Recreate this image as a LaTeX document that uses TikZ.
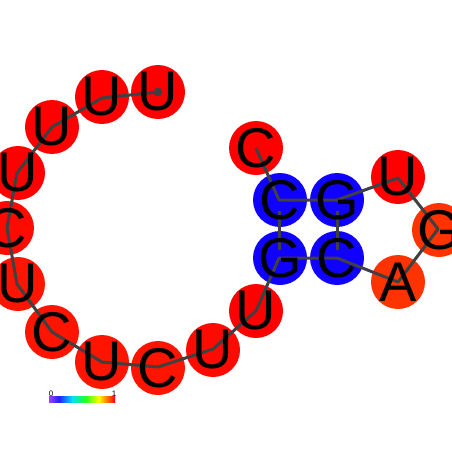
\documentclass[tikz,border=0pt]{standalone}
\usepackage{fontspec}
\setmainfont{Liberation Sans}
\definecolor{bb}{HTML}{404040}
\definecolor{r0}{HTML}{FF0000}
\definecolor{r1}{HTML}{FF0A00}
\definecolor{r2}{HTML}{FF1400}
\definecolor{ro}{HTML}{FF3300}
\definecolor{bl}{HTML}{1000FF}
\definecolor{cbA}{HTML}{A040FF}
\definecolor{cbB}{HTML}{2020FF}
\definecolor{cbC}{HTML}{00E0FF}
\definecolor{cbD}{HTML}{20FF20}
\definecolor{cbE}{HTML}{FFFF00}
\definecolor{cbF}{HTML}{FF8000}
\definecolor{cbG}{HTML}{FF0000}
\pgfdeclarehorizontalshading{rainbowbar}{100bp}{color(0bp)=(cbA); color(25bp)=(cbA); color(32.5bp)=(cbB); color(42.5bp)=(cbC); color(52.5bp)=(cbD); color(62.5bp)=(cbE); color(68.5bp)=(cbF); color(75bp)=(cbG); color(100bp)=(cbG)}
\tikzset{
  ntc/.style={circle, minimum size=54pt, inner sep=0pt, draw=none},
  ntl/.style={inner sep=0pt, font=\fontsize{56}{56}\selectfont, text=black},
  backbone/.style={draw=bb, line width=3pt, line join=round},
  pairline/.style={draw=bb, line width=3pt},
  cblabel/.style={inner sep=0pt, font=\fontsize{8}{8}\selectfont, anchor=base}
}
\begin{document}
\begin{tikzpicture}[x=1pt,y=-1pt]
\useasboundingbox (0,0) rectangle (452,452);
% positions
\coordinate (p1) at (158,92);
\coordinate (p2) at (102,98);
\coordinate (p3) at (52,127);
\coordinate (p4) at (17,173);
\coordinate (p5) at (7,228);
\coordinate (p6) at (17,284);
\coordinate (p7) at (52,332);
\coordinate (p8) at (102,362);
\coordinate (p9) at (158,367);
\coordinate (p10) at (213,349);
\coordinate (p11) at (256,311);
\coordinate (p12) at (279,258);
\coordinate (p13) at (337,258);
\coordinate (p14) at (398,282);
\coordinate (p15) at (438,229);
\coordinate (p16) at (398,178);
\coordinate (p17) at (337,200);
\coordinate (p18) at (279,200);
\coordinate (p19) at (256,148);
% circles
\node[ntc, fill=r0] (c1) at (158,92) {};
\node[ntc, fill=r0] (c2) at (102,97) {};
\node[ntc, fill=r0] (c3) at (52,127) {};
\node[ntc, fill=r0] (c4) at (18,173) {};
\node[ntc, fill=r1] (c5) at (7,228) {};
\node[ntc, fill=r2] (c6) at (18,284) {};
\node[ntc, fill=r2] (c7) at (52,332) {};
\node[ntc, fill=r2] (c8) at (102,362) {};
\node[ntc, fill=r2] (c9) at (158,368) {};
\node[ntc, fill=r1] (c10) at (213,350) {};
\node[ntc, fill=r0] (c11) at (256,311) {};
\node[ntc, fill=bl] (c12) at (280,258) {};
\node[ntc, fill=bl] (c13) at (337,258) {};
\node[ntc, fill=ro] (c14) at (398,282) {};
\node[ntc, fill=ro] (c15) at (439,230) {};
\node[ntc, fill=r0] (c16) at (398,177) {};
\node[ntc, fill=bl] (c17) at (337,200) {};
\node[ntc, fill=bl] (c18) at (280,200) {};
\node[ntc, fill=r0] (c19) at (256,148) {};
% pair lines
\coordinate (q18) at (279,211);
\coordinate (q12) at (279,250);
\coordinate (q17) at (337,211);
\coordinate (q13) at (337,250);
\draw[pairline] (q18) -- (q12);
\draw[pairline] (q17) -- (q13);
% backbone
\draw[backbone] (p1) -- (p2) -- (p3) -- (p4) -- (p5) -- (p6) -- (p7) -- (p8) -- (p9) -- (p10) -- (p11) -- (p12) -- (p13) -- (p14) -- (p15) -- (p16) -- (p17) -- (p18) -- (p19);
\fill[bb] (p1) circle (4.5pt);
% letters
\node[ntl] (l1) at (158,92) {U};
\node[ntl] (l2) at (102,97) {U};
\node[ntl] (l3) at (52,127) {U};
\node[ntl] (l4) at (18,173) {U};
\node[ntl] (l5) at (7,228) {C};
\node[ntl] (l6) at (18,284) {U};
\node[ntl] (l7) at (52,332) {C};
\node[ntl] (l8) at (102,362) {U};
\node[ntl] (l9) at (158,368) {C};
\node[ntl] (l10) at (213,350) {U};
\node[ntl] (l11) at (256,311) {U};
\node[ntl] (l12) at (280,258) {G};
\node[ntl] (l13) at (337,258) {C};
\node[ntl] (l14) at (398,282) {A};
\node[ntl] (l15) at (439,230) {G};
\node[ntl] (l16) at (398,177) {U};
\node[ntl] (l17) at (337,200) {G};
\node[ntl] (l18) at (280,200) {C};
\node[ntl] (l19) at (256,148) {C};
% colour bar
\shade[shading=rainbowbar] (49,396.5) rectangle (115,402.5);
\node[cblabel] (cb0) at (51,396) {0};
\node[cblabel] (cb1) at (114,396) {1};
\end{tikzpicture}
\end{document}
